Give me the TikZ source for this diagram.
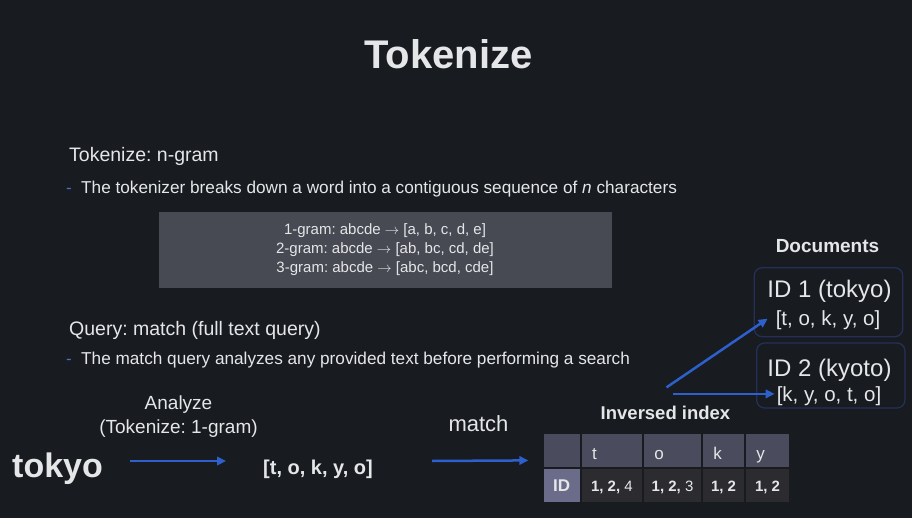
\documentclass[tikz,border=0pt]{standalone}
\usepackage{fontspec}
\setmainfont{Liberation Sans}
\usetikzlibrary{arrows.meta}
\frenchspacing

\definecolor{slidebg}{HTML}{181B20}
\definecolor{fgtext}{HTML}{E4E6E8}
\definecolor{flowblue}{HTML}{2D60CC}
\definecolor{dashblue}{HTML}{4A72C4}
\definecolor{boxgray}{HTML}{474953}
\definecolor{hdrgray}{HTML}{4A4C5E}
\definecolor{cellgray}{HTML}{2B2B30}
\definecolor{idgray}{HTML}{6A6C8A}
\definecolor{docblue}{HTML}{243058}
\newcommand{\fsz}[2]{\fontsize{#1pt}{#2pt}\selectfont}

\begin{document}
\begin{tikzpicture}[x=1pt,y=-1pt,
  txt/.style={inner sep=0pt,text=fgtext},
  flow/.style={-{Triangle[length=9pt,width=8.5pt]},line width=2.5pt,draw=flowblue},
  hcell/.style={fill=hdrgray,minimum height=33.4pt,inner xsep=10.5pt,inner ysep=0pt,align=left,text height=18pt,text depth=0pt,font=\fsz{17}{20},text=fgtext},
  dcell/.style={fill=cellgray,minimum height=33.4pt,inner sep=0pt,text height=12pt,text depth=0pt,font=\fsz{15}{18},text=fgtext},
  docbox/.style={draw=docblue,rounded corners=8pt,line width=1.3pt,inner sep=0pt}]
\fill[slidebg] (0,0) rectangle (912,518);
\useasboundingbox (0,0) rectangle (912,518);
% heading and notes
\node[txt,anchor=base,font=\bfseries\fsz{40}{46}] (title) at (448.5,69) {Tokenize};
\node[txt,anchor=base west,font=\fsz{19.5}{23}] (sec1) at (69,162) {Tokenize: n-gram};
\node[txt,anchor=base west,text=dashblue,font=\fsz{17}{20}] (dash1) at (66,194) {-};
\node[txt,anchor=base west,font=\fsz{17.2}{20}] (note1) at (81,194) {The tokenizer breaks down a word into a contiguous sequence of \textit{n} characters};
\node[fill=boxgray,minimum width=453pt,minimum height=75.5pt,align=center,text=fgtext,font=\fsz{15}{19}] (grams) at (385,250)
  {1-gram: abcde $\rightarrow$ [a, b, c, d, e]\\2-gram: abcde $\rightarrow$ [ab, bc, cd, de]\\3-gram: abcde $\rightarrow$ [abc, bcd, cde]};
\node[txt,anchor=base west,font=\fsz{19.5}{23}] (sec2) at (69,335) {Query: match (full text query)};
\node[txt,anchor=base west,text=dashblue,font=\fsz{17}{20}] (dash2) at (66,364) {-};
\node[txt,anchor=base west,font=\fsz{17.2}{20}] (note2) at (81,364) {The match query analyzes any provided text before performing a search};
% flow
\node[txt,align=center,font=\fsz{19}{24}] (analyze) at (178.5,417) {Analyze\\(Tokenize: 1-gram)};
\node[txt,anchor=base west,font=\bfseries\fsz{34}{40}] (tokyo) at (12,477) {tokyo};
\node[txt,anchor=base west,font=\bfseries\fsz{20}{24}] (tokens) at (263,474.5) {[t, o, k, y, o]};
\node[txt,anchor=base,font=\fsz{22}{26}] (matchlbl) at (478.5,431.5) {match};
% inversed index
\node[txt,anchor=base,font=\bfseries\fsz{18.5}{22}] (idx) at (665.5,419) {Inversed index};
\node[fill=hdrgray,minimum width=36.4pt,minimum height=33.4pt,inner sep=0pt] (corner) at (561.7,450.5) {};
\node[hcell,text width=39.7pt] (ht) at (611.85,450.5) {t};
\node[hcell,text width=36.4pt] (ho) at (672.5,450.5) {o};
\node[hcell,text width=20.4pt] (hk) at (723.5,450.5) {k};
\node[hcell,text width=22.4pt] (hy) at (767.5,450.5) {y};
\node[dcell,fill=idgray,minimum width=36.4pt,font=\bfseries\fsz{17}{20}] (idcell) at (561.7,485.5) {ID};
\node[dcell,minimum width=60.7pt] (dt) at (611.85,485.5) {\textbf{1, 2,} 4};
\node[dcell,minimum width=57.4pt] (do) at (672.5,485.5) {\textbf{1, 2,} 3};
\node[dcell,minimum width=41.4pt] (dk) at (723.5,485.5) {\textbf{1, 2}};
\node[dcell,minimum width=43.4pt] (dy) at (767.5,485.5) {\textbf{1, 2}};
% documents
\node[txt,anchor=base,font=\bfseries\fsz{19}{23}] (docs) at (827.5,253) {Documents};
\node[docbox,minimum width=148.5pt,minimum height=69pt] (doc1) at (828.5,302.2) {};
\node[docbox,minimum width=148.3pt,minimum height=65pt] (doc2) at (830.8,375.5) {};
\node[txt,anchor=base,font=\fsz{24}{28}] (d1id) at (829.5,298) {ID 1 (tokyo)};
\node[txt,anchor=base,font=\fsz{20.5}{24}] (d1tok) at (828,325.7) {[t, o, k, y, o]};
\node[txt,anchor=base,font=\fsz{24}{28}] (d2id) at (829.5,376.7) {ID 2 (kyoto)};
\node[txt,anchor=base,font=\fsz{20.5}{24}] (d2tok) at (829,401.7) {[k, y, o, t, o]};
% arrows
\draw[flow] ([shift={(27,-16)}]tokyo.base east) -- ([shift={(-37,-13.5)}]tokens.base west);
\draw[flow] ([shift={(59,-13.5)}]tokens.base east) -- ([shift={(-15,-7)}]corner.south west);
\draw[flow] ([shift={(1,-18)}]idx.north) -- ([shift={(-8,-7)}]d1tok.base west);
\draw[flow] ([shift={(7,-11.5)}]idx.north) coordinate (s2) -- ([xshift=-2pt]s2 -| d2tok.west);
\end{tikzpicture}
\end{document}
